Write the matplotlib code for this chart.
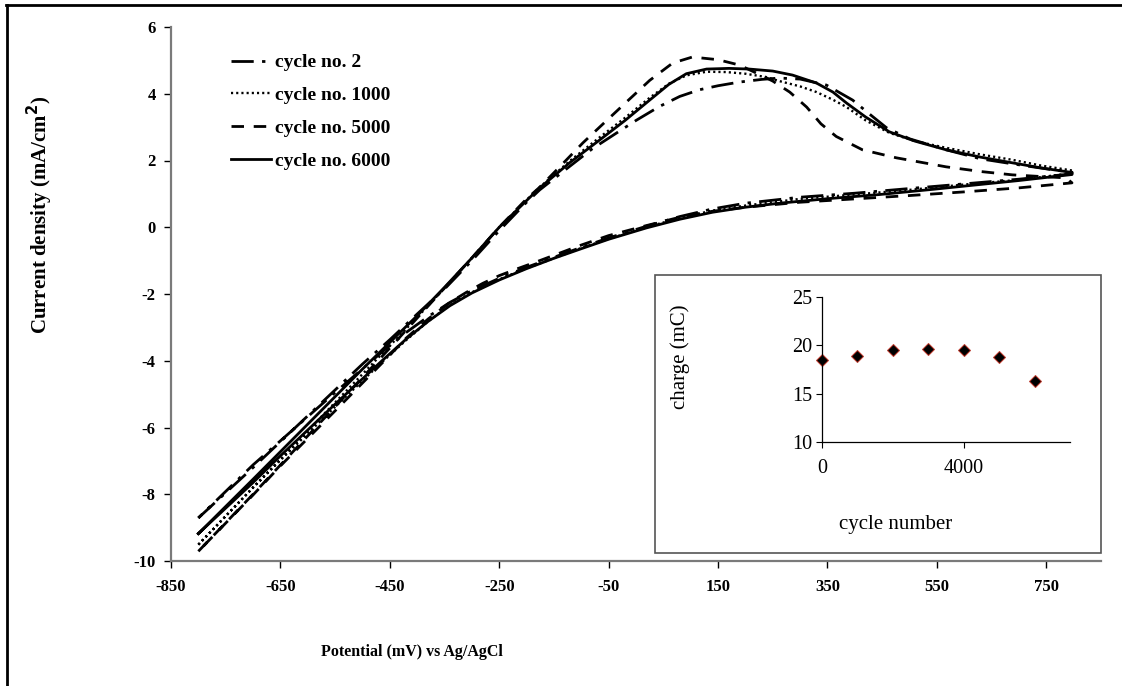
import matplotlib
matplotlib.use("Agg")
import matplotlib.pyplot as plt
from matplotlib.lines import Line2D
from matplotlib.patches import Rectangle

plt.rcParams['font.family'] = ['Liberation Serif', 'DejaVu Serif']

# ---------------- data ----------------
# cycle 2 (dash-dot)
c2_fwd_x = [-800, -700, -600, -500, -450, -400, -350, -300, -250, -200, -176, -127, -80, -35, 0, 43, 80, 116, 150, 189, 230, 262, 300, 348, 396, 430, 458, 500, 567, 630, 688, 750, 797]
c2_fwd_y = [-8.71, -7.2, -5.65, -4.1, -3.37, -2.6, -1.85, -1.0, -0.1, 0.75, 1.12, 1.75, 2.35, 2.83, 3.2, 3.62, 3.92, 4.12, 4.24, 4.35, 4.43, 4.47, 4.44, 4.26, 3.81, 3.35, 2.98, 2.65, 2.32, 2.05, 1.9, 1.75, 1.65]
c2_rev_x = [797, 700, 600, 500, 400, 300, 200, 140, 80, 19, -50, -103, -150, -200, -250, -300, -340, -380, -420, -463, -550, -650, -700, -800]
c2_rev_y = [1.6, 1.44, 1.3, 1.16, 1.02, 0.9, 0.72, 0.55, 0.32, 0.03, -0.32, -0.62, -0.9, -1.2, -1.53, -1.9, -2.25, -2.68, -3.15, -3.72, -4.95, -6.4, -7.12, -8.71]

# cycle 1000 (dotted)
c1000_fwd_x = [-800, -700, -600, -500, -450, -400, -350, -300, -250, -200, -176, -120, -66, -20, 25, 60, 92, 129, 165, 200, 238, 262, 300, 330, 360, 385, 420, 463, 510, 567, 630, 688, 740, 797]
c1000_fwd_y = [-9.51, -7.8, -6.1, -4.4, -3.55, -2.7, -1.82, -0.92, 0.0, 0.82, 1.2, 2.0, 2.7, 3.28, 3.88, 4.3, 4.55, 4.66, 4.65, 4.6, 4.5, 4.38, 4.22, 4.05, 3.82, 3.6, 3.2, 2.83, 2.58, 2.38, 2.18, 2.02, 1.85, 1.7]
c1000_rev_x = [797, 700, 600, 500, 400, 300, 200, 140, 80, 19, -50, -103, -150, -200, -250, -300, -340, -380, -420, -463, -550, -650, -700, -800]
c1000_rev_y = [1.62, 1.42, 1.28, 1.12, 0.98, 0.85, 0.65, 0.5, 0.28, 0.0, -0.35, -0.64, -0.93, -1.23, -1.56, -1.95, -2.33, -2.82, -3.38, -4.02, -5.38, -6.98, -7.8, -9.51]

# cycle 5000 (dashed)
c5000_fwd_x = [-800, -700, -600, -500, -450, -400, -350, -300, -250, -200, -176, -140, -97, -60, -17, 25, 67, 103, 150, 189, 220, 250, 281, 312, 338, 366, 414, 476, 567, 630, 688, 740, 786]
c5000_fwd_y = [-9.71, -8.0, -6.25, -4.5, -3.62, -2.72, -1.82, -0.92, 0.0, 0.85, 1.2, 1.8, 2.53, 3.1, 3.76, 4.4, 4.92, 5.1, 5.02, 4.86, 4.62, 4.38, 4.05, 3.6, 3.1, 2.72, 2.32, 2.08, 1.81, 1.67, 1.57, 1.52, 1.48]
c5000_rev_x = [797, 700, 600, 500, 400, 300, 200, 140, 80, 19, -50, -103, -176, -218, -250, -280, -310, -340, -380, -420, -463, -550, -650, -700, -800]
c5000_rev_y = [1.33, 1.18, 1.06, 0.95, 0.85, 0.75, 0.6, 0.48, 0.3, 0.05, -0.25, -0.55, -1.0, -1.25, -1.45, -1.68, -1.95, -2.25, -2.75, -3.32, -4.05, -5.5, -7.15, -8.02, -9.71]

# cycle 6000 (solid)
c6000_fwd_x = [-800, -700, -600, -500, -450, -400, -350, -300, -250, -200, -176, -120, -66, -20, 25, 60, 92, 129, 170, 207, 250, 286, 330, 360, 385, 420, 463, 510, 567, 630, 688, 740, 797]
c6000_fwd_y = [-9.18, -7.55, -5.9, -4.25, -3.45, -2.65, -1.8, -0.92, 0.0, 0.8, 1.18, 1.95, 2.62, 3.2, 3.81, 4.28, 4.6, 4.74, 4.76, 4.74, 4.68, 4.56, 4.32, 4.05, 3.72, 3.3, 2.86, 2.58, 2.32, 2.1, 1.93, 1.78, 1.64]
c6000_rev_x = [797, 700, 628, 545, 445, 353, 262, 200, 140, 80, 19, -50, -103, -150, -200, -250, -300, -340, -380, -420, -463, -550, -650, -700, -800]
c6000_rev_y = [1.58, 1.4, 1.28, 1.14, 0.98, 0.86, 0.72, 0.6, 0.45, 0.24, -0.02, -0.36, -0.66, -0.93, -1.24, -1.58, -1.97, -2.35, -2.82, -3.35, -3.98, -5.3, -6.85, -7.65, -9.18]

labels = ['cycle no. 2', 'cycle no. 1000', 'cycle no. 5000', 'cycle no. 6000']

x_ticks = [-850, -650, -450, -250, -50, 150, 350, 550, 750]
y_ticks = [-10, -8, -6, -4, -2, 0, 2, 4, 6]

# inset data
inset_cycles = [0, 1000, 2000, 3000, 4000, 5000, 6000]
inset_charge = [18.5, 18.9, 19.5, 19.6, 19.5, 18.8, 16.3]
inset_x_ticks = [0, 4000]
inset_y_ticks = [10, 15, 20, 25]

# ---------------- figure ----------------
W, H = 1122, 686
fig = plt.figure(figsize=(W / 100, H / 100), dpi=100)


def fx(px):
    return px / W


def fy(py):
    return 1 - py / H


ax = fig.add_axes([fx(171), fy(561), fx(1101) - fx(171), fy(27) - fy(561)])

styles = [
    dict(color='black', lw=2.0, linestyle=(0, (8, 3, 1.2, 3))),
    dict(color='black', lw=1.7, linestyle=(0, (0.9, 1.3))),
    dict(color='black', lw=2.0, linestyle=(0, (4.5, 3.5))),
    dict(color='black', lw=2.0, linestyle='-'),
]
series = [
    (c2_fwd_x, c2_fwd_y, c2_rev_x, c2_rev_y),
    (c1000_fwd_x, c1000_fwd_y, c1000_rev_x, c1000_rev_y),
    (c5000_fwd_x, c5000_fwd_y, c5000_rev_x, c5000_rev_y),
    (c6000_fwd_x, c6000_fwd_y, c6000_rev_x, c6000_rev_y),
]
handles = []
for (fxs, fys, rxs, rys), st, lab in zip(series, styles, labels):
    xs = list(fxs) + list(rxs)
    ys = list(fys) + list(rys)
    h, = ax.plot(xs, ys, label=lab, solid_joinstyle='round', **st)
    handles.append(h)

ax.set_xlim(-850, 850)
ax.set_ylim(-10, 6)
ax.set_xticks(x_ticks)
ax.set_yticks(y_ticks)
ax.set_xticklabels([str(v) for v in x_ticks], fontsize=12, fontweight='bold')
ax.set_yticklabels([str(v) for v in y_ticks], fontsize=12, fontweight='bold')
ax.tick_params(direction='out', length=5, width=1, colors='black')
ax.tick_params(axis='x', pad=8)
ax.tick_params(axis='y', pad=6)
for s in ['top', 'right']:
    ax.spines[s].set_visible(False)
for s in ['left', 'bottom']:
    ax.spines[s].set_color('#7a7a7a')
    ax.spines[s].set_linewidth(1.6)

leg = ax.legend(handles=handles, loc='upper left',
                bbox_to_anchor=(fx(221), fy(44)), bbox_transform=fig.transFigure,
                frameon=False, prop=dict(family='Liberation Serif', weight='bold', size=14),
                handlelength=2.05, handletextpad=0.25, labelspacing=0.78, borderpad=0)

fig.text(fx(40), fy(215), 'Current density (mA/cm$^\\mathbf{2}$)', rotation=90,
         ha='center', va='center', fontsize=15, fontweight='bold')
fig.text(fx(412), fy(652), 'Potential (mV) vs Ag/AgCl', ha='center', va='center',
         fontsize=11.5, fontweight='bold')

# inset frame
fig.patches.append(Rectangle((fx(655), fy(553)), fx(1101) - fx(655), fy(275) - fy(553),
                             transform=fig.transFigure, facecolor='white',
                             edgecolor='#555555', lw=1.2, zorder=5))

axi = fig.add_axes([fx(822), fy(442), fx(1070) - fx(822), fy(297) - fy(442)], zorder=10)
axi.patch.set_alpha(0)
axi.plot(inset_cycles, inset_charge, linestyle='none', marker='D', markersize=6.5,
         markerfacecolor='black', markeredgecolor='#c0392b', markeredgewidth=0.7,
         clip_on=False)
axi.set_xlim(0, 7000)
axi.set_ylim(10, 25)
axi.set_xticks(inset_x_ticks)
axi.set_yticks(inset_y_ticks)
axi.tick_params(direction='out', length=4, width=0.8, labelsize=14.5)
axi.tick_params(axis='x', pad=8)
axi.tick_params(axis='y', pad=3)
for s in ['top', 'right']:
    axi.spines[s].set_visible(False)
for s in ['left', 'bottom']:
    axi.spines[s].set_linewidth(0.9)
axi.set_ylabel('charge (mC)', fontsize=15)
axi.yaxis.set_label_coords((680 - 822) / (1070 - 822), (442 - 357) / (442 - 297))
axi.yaxis.label.set_va('center')
axi.set_xlabel('cycle number', fontsize=15)
axi.xaxis.set_label_coords((896 - 822) / (1070 - 822), -(525 - 442) / (442 - 297))
axi.xaxis.label.set_va('center')

# figure border (top and left)
fig.add_artist(Line2D([fx(6), 1], [fy(5), fy(5)], transform=fig.transFigure, color='black', lw=2))
fig.add_artist(Line2D([fx(7), fx(7)], [fy(5), 0], transform=fig.transFigure, color='black', lw=2))

fig.savefig('out.png', dpi=100)
